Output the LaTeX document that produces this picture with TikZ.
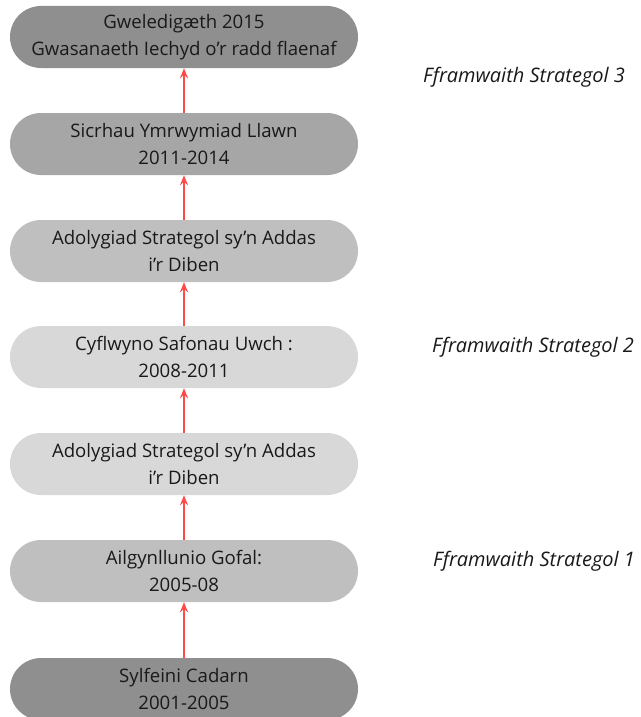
\documentclass[tikz,border=0pt]{standalone}
\usepackage{fontspec}
\setmainfont{Open Sans}
\usetikzlibrary{arrows.meta}
\definecolor{gA}{HTML}{8F8F8F}
\definecolor{gB}{HTML}{A6A6A6}
\definecolor{gC}{HTML}{BFBFBF}
\definecolor{gD}{HTML}{D8D8D8}
\definecolor{arr}{HTML}{FF4A4A}
\tikzset{
  stage/.style={rectangle, rounded corners=31pt, minimum width=348pt, minimum height=62pt,
    inner sep=0pt, align=center, text=black!90, font=\fontsize{18.6}{27}\selectfont},
  fw/.style={font=\fontsize{20}{22}\selectfont\itshape, text=black!90, anchor=west, inner sep=0pt},
  up/.style={draw=arr, line width=1.6pt, -{Stealth[length=10pt,width=8pt]}}
}
\begin{document}
\begin{tikzpicture}[x=1pt,y=-1pt]
\useasboundingbox (0,0) rectangle (640,717);
\node[stage, fill=gA] (n1) at (184,37) {Gweledigæth 2015\\Gwasanaeth Iechyd o’r radd flaenaf};
\node[stage, fill=gB] (n2) at (184,144) {Sicrhau Ymrwymiad Llawn\\2011-2014};
\node[stage, fill=gC] (n3) at (184,251) {Adolygiad Strategol sy’n Addas\\i’r Diben};
\node[stage, fill=gD] (n4) at (184,357) {Cyflwyno Safonau Uwch :\\2008-2011};
\node[stage, fill=gD] (n5) at (184,464) {Adolygiad Strategol sy’n Addas\\i’r Diben};
\node[stage, fill=gC] (n6) at (184,571) {Ailgynllunio Gofal:\\2005-08};
\node[stage, fill=gA] (n7) at (184,689) {Sylfeini Cadarn\\2001-2005};
\node[fw] (f3) at (423,77) {Fframwaith Strategol 3};
\node[fw] (f2) at (432,347) {Fframwaith Strategol 2};
\node[fw] (f1) at (433,561) {Fframwaith Strategol 1};
\draw[up] (n2) -- (n1);
\draw[up] (n3) -- (n2);
\draw[up] (n4) -- (n3);
\draw[up] (n5) -- (n4);
\draw[up] (n6) -- (n5);
\draw[up] (n7) -- (n6);
\end{tikzpicture}
\end{document}
